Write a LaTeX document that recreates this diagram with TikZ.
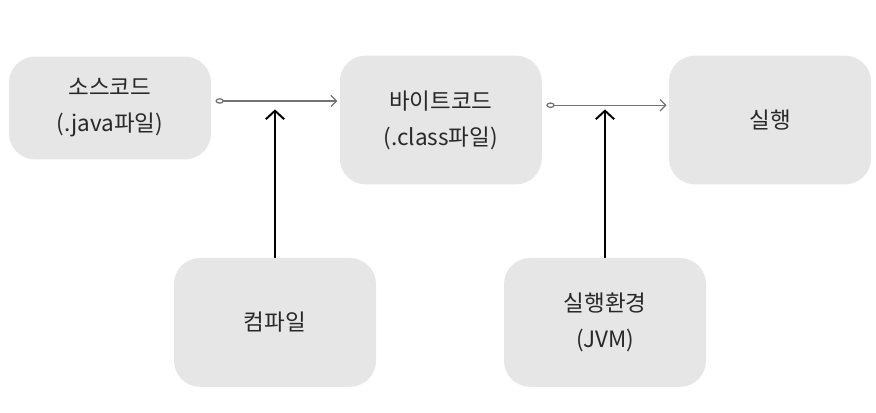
\documentclass[tikz,border=0pt]{standalone}
\usepackage{fontspec}
\setmainfont{Noto Sans CJK KR}
\usetikzlibrary{arrows.meta,positioning}

\begin{document}
\begin{tikzpicture}[>=Stealth, font=\fontsize{16}{25.5}\selectfont]

        \useasboundingbox (0, 0) rectangle (21.9, 10.3);
        \definecolor{boxgray}{RGB}{230, 230, 230}
        \definecolor{textgray}{RGB}{40, 40, 40}
        \definecolor{flowgray}{RGB}{115, 115, 115}
        \tikzset{
            stage/.style={fill=boxgray, text=textgray, rounded corners=0.65cm, minimum width=5.05cm, minimum height=3.22cm, align=center, inner sep=0pt},
            small/.style={stage, minimum height=2.57cm},
            flow/.style={{Circle[open, length=6pt, width=4pt]}-{Straight Barb[length=4pt, width=8pt]}, line width=0.9pt, draw=flowgray},
            push/.style={-{Straight Barb[length=6pt, width=13pt, line width=1.4pt]}, line width=1.5pt, draw=black}
        }


        \node[small] (source) at (2.75, 7.6) {소스코드\\(.java파일)};
        \node[stage] (bytecode) at (11.02, 7.3) {바이트코드\\(.class파일)};
        \node[stage] (run) at (19.25, 7.3) {실행};


        \node[stage] (compiler) at (6.875, 2.24) {컴파일};
        \node[stage] (jvm) at (15.125, 2.24) {실행환경\\(JVM)};


        \draw[flow] ([xshift=3pt, yshift=5pt]source.east) -- ([xshift=-1.5pt, yshift=5pt]source.east -| bytecode.west);
        \draw[flow] ([xshift=3pt, yshift=10.5pt]bytecode.east) -- ([xshift=-1.5pt, yshift=10.5pt]bytecode.east -| run.west);


        \draw[push] (compiler.north) -- ([yshift=-1pt]compiler.north |- source.east);
        \draw[push] (jvm.north) -- ([yshift=-1pt]jvm.north |- source.east);

    \end{tikzpicture}
\end{document}
